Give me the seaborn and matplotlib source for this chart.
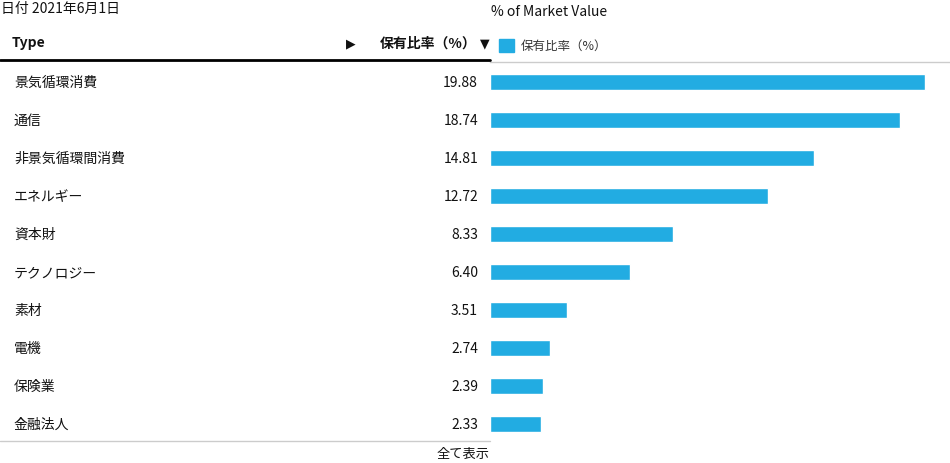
import matplotlib
matplotlib.use('Agg')
import matplotlib.pyplot as plt
import matplotlib.transforms as mtransforms
from matplotlib.lines import Line2D
import seaborn as sns
import pandas as pd

sns.set_style('white')
plt.rcParams['font.family'] = ['Noto Sans CJK JP', 'DejaVu Sans']

date_label = '日付 2021年6月1日'
categories = ['景気循環消費', '通信', '非景気循環間消費', 'エネルギー', '資本財',
              'テクノロジー', '素材', '電機', '保険業', '金融法人']
values = [19.88, 18.74, 14.81, 12.72, 8.33, 6.40, 3.51, 2.74, 2.39, 2.33]
series_name = '保有比率（%）'

df = pd.DataFrame({'Type': categories, series_name: values})

W, H = 950, 464
fig = plt.figure(figsize=(W / 100, H / 100), dpi=100)
ax = fig.add_axes([490.5 / W, (H - 443) / H, 459.5 / W, 380 / H])

blue = '#22ACE2'
sns.barplot(data=df, y='Type', x=series_name, color=blue, width=0.42,
            saturation=1, ax=ax)
ax.set_xlim(0, 459.5 / 21.85)
# rows sit ~1px below the header rule offset
ax.set_ylim(9.5 - 1.2 / 38, -0.5 - 1.2 / 38)
ax.set_xlabel('')
ax.set_ylabel('')
ax.set_xticks([])
ax.set_yticks([])
for s in ['left', 'right', 'bottom']:
    ax.spines[s].set_visible(False)
ax.spines['top'].set_color('#cccccc')
ax.spines['top'].set_linewidth(1)

# table part: x in figure coords, y in data coords of the bar axes
trans = mtransforms.blended_transform_factory(fig.transFigure, ax.transData)
for i, (c, v) in enumerate(zip(categories, values)):
    fig.text(14 / W, i, c, transform=trans, ha='left', va='center',
             fontsize=10, color='#111111')
    fig.text(478 / W, i, f'{v:.2f}', transform=trans, ha='right', va='center',
             fontsize=10, color='#111111')


def fy(py):
    return (H - py) / H


fig.text(1 / W, fy(9), date_label, ha='left', va='center', fontsize=10, color='#111111')
fig.text(12 / W, fy(43), 'Type', ha='left', va='center', fontsize=10,
         fontweight='bold', color='#111111')
fig.text(351 / W, fy(44), '▶', ha='center', va='center', fontsize=9,
         color='#111111', family='DejaVu Sans')
fig.text(477 / W, fy(44), series_name, ha='right', va='center', fontsize=10,
         fontweight='bold', color='#111111')
fig.text(485 / W, fy(44), '▼', ha='center', va='center', fontsize=9,
         color='#111111', family='DejaVu Sans')
fig.text(491 / W, fy(12), '% of Market Value', ha='left', va='center',
         fontsize=10, color='#111111')

# legend square and label
fig.add_artist(plt.Rectangle((499 / W, fy(53)), 15 / W, 13 / H,
                             transform=fig.transFigure, color=blue))
fig.text(521 / W, fy(46), series_name, ha='left', va='center', fontsize=9,
         color='#333333')

# header / footer rules
fig.add_artist(Line2D([0, 490 / W], [fy(61), fy(61)], transform=fig.transFigure,
                      color='#000000', linewidth=2))
fig.add_artist(Line2D([0, 490 / W], [fy(442), fy(442)], transform=fig.transFigure,
                      color='#cccccc', linewidth=1))
fig.text(490 / W, fy(454), '全て表示', ha='right', va='center', fontsize=9.5,
         color='#111111')

fig.savefig('out.png', dpi=100)
